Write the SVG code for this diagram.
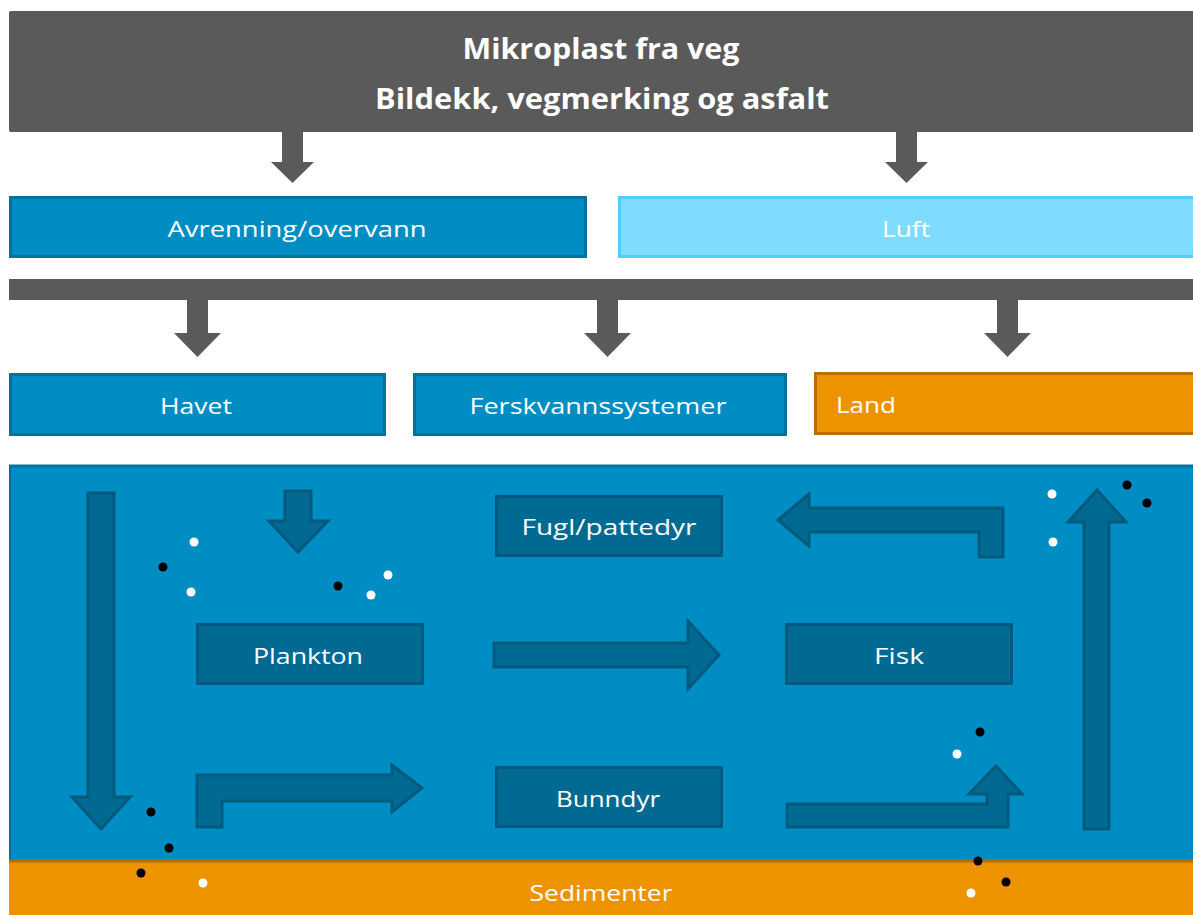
<svg xmlns="http://www.w3.org/2000/svg" width="1193" height="915" viewBox="0 0 1193 915">
<style>
text{font-family:"Open Sans","DejaVu Sans",sans-serif;fill:#fff;dominant-baseline:central;text-anchor:middle}
.t{font-size:28px;font-weight:bold}
.l{font-size:22px}
.gray{fill:#5a5a5a}
.blue{fill:#008dc4;stroke:#00729e;stroke-width:3}
.luft{fill:#80dcff;stroke:#4dcfff;stroke-width:3}
.orange{fill:#ee9300;stroke:#b66f00;stroke-width:3}
.inner{fill:#006a93;stroke:#005a7d;stroke-width:3}
.ga{fill:#5a5a5a}
.ia{fill:#006a93;stroke:#005a7d;stroke-width:3;stroke-linejoin:miter}
.w{fill:#fff}
.k{fill:#000}
</style>
<rect width="1193" height="915" fill="#fff"/>
<g id="water">
<rect x="9" y="465" width="1190" height="400" fill="#008dc4"/>
<line x1="9" y1="466" x2="1193" y2="466" stroke="#00729e" stroke-width="3"/>
<line x1="10" y1="465" x2="10" y2="862" stroke="#00729e" stroke-width="2"/>
</g>
<g id="sedimenter">
<rect x="9" y="860" width="1190" height="60" fill="#ee9300"/>
<line x1="9" y1="861" x2="1193" y2="861" stroke="#b66f00" stroke-width="3"/>
<text class="l" x="601" y="892" textLength="143" lengthAdjust="spacingAndGlyphs">Sedimenter</text>
</g>
<g id="kilde">
<rect x="9" y="11" width="1190" height="121" class="gray" rx="2"/>
<text class="t" x="601" y="48" textLength="277" lengthAdjust="spacingAndGlyphs">Mikroplast fra veg</text>
<text class="t" x="602" y="98" textLength="454" lengthAdjust="spacingAndGlyphs">Bildekk, vegmerking og asfalt</text>
</g>
<g id="avrenning">
<rect x="10.5" y="197.5" width="575" height="59" class="blue"/>
<text class="l" x="297" y="228" textLength="259" lengthAdjust="spacingAndGlyphs">Avrenning/overvann</text>
</g>
<g id="luft">
<rect x="619.5" y="197.5" width="580" height="59" class="luft"/>
<text class="l" x="906" y="228" textLength="48" lengthAdjust="spacingAndGlyphs">Luft</text>
</g>
<g id="fordeler">
<rect x="9" y="279" width="1190" height="21" class="gray"/>
</g>
<g id="havet">
<rect x="10.5" y="374.5" width="374" height="60" class="blue"/>
<text class="l" x="196" y="405" textLength="72" lengthAdjust="spacingAndGlyphs">Havet</text>
</g>
<g id="ferskvann">
<rect x="414.5" y="374.5" width="371" height="60" class="blue"/>
<text class="l" x="598" y="405" textLength="257" lengthAdjust="spacingAndGlyphs">Ferskvannssystemer</text>
</g>
<g id="land">
<rect x="815.5" y="373.5" width="384" height="60" class="orange"/>
<text class="l" x="836" y="404" style="text-anchor:start" textLength="60" lengthAdjust="spacingAndGlyphs">Land</text>
</g>
<g id="fugl">
<rect x="496.5" y="496.5" width="225" height="59" class="inner"/>
<text class="l" x="609" y="526" textLength="175" lengthAdjust="spacingAndGlyphs">Fugl/pattedyr</text>
</g>
<g id="plankton">
<rect x="197.5" y="624.5" width="225" height="59" class="inner"/>
<text class="l" x="308" y="655" textLength="110" lengthAdjust="spacingAndGlyphs">Plankton</text>
</g>
<g id="fisk">
<rect x="786.5" y="624.5" width="225" height="59" class="inner"/>
<text class="l" x="899" y="655" textLength="50" lengthAdjust="spacingAndGlyphs">Fisk</text>
</g>
<g id="bunndyr">
<rect x="496.5" y="767.5" width="225" height="59" class="inner"/>
<text class="l" x="608" y="798" textLength="104" lengthAdjust="spacingAndGlyphs">Bunndyr</text>
</g>
<g id="connectors">
<polygon class="ga" points="282,132 303,132 303,162 314,162 292.5,183 271,162 282,162"/>
<polygon class="ga" points="896,132 917,132 917,162 928,162 906.5,183 885,162 896,162"/>
<polygon class="ga" points="187,300 208,300 208,333 221,333 197.5,357 174,333 187,333"/>
<polygon class="ga" points="597,300 618,300 618,333 631,333 607.5,357 584,333 597,333"/>
<polygon class="ga" points="997,300 1018,300 1018,333 1031,333 1007.5,357 984,333 997,333"/>
<polygon class="ia" points="88,493 114,493 114,797 130,797 101,829 72,797 88,797"/>
<polygon class="ia" points="285,491 311,491 311,521 328,521 298,552 269,521 285,521"/>
<polygon class="ia" points="197,827 197,775 392,775 392,765 422,788 392,812 392,801 222,801 222,827"/>
<polygon class="ia" points="494,643 688,643 688,621 719,655 688,689 688,667 494,667"/>
<polygon class="ia" points="778,520 809,494 809,508 1003,508 1003,557 979,557 979,532 809,532 809,546"/>
<polygon class="ia" points="787,804 987,804 987,794 969,794 996,766 1022,794 1008,794 1008,827 787,827"/>
<polygon class="ia" points="1084,829 1109,829 1109,522 1126,522 1097,490 1068,522 1084,522"/>
</g>
<g id="partikler">
<circle class="w" cx="194" cy="542" r="4.5"/>
<circle class="k" cx="163" cy="567" r="4.5"/>
<circle class="w" cx="191" cy="592" r="4.5"/>
<circle class="k" cx="338" cy="586" r="4.5"/>
<circle class="w" cx="388" cy="575" r="4.5"/>
<circle class="w" cx="371" cy="595" r="4.5"/>
<circle class="k" cx="151" cy="812" r="4.5"/>
<circle class="k" cx="169" cy="848" r="4.5"/>
<circle class="k" cx="141" cy="873" r="4.5"/>
<circle class="w" cx="203" cy="883" r="4.5"/>
<circle class="w" cx="1052" cy="494" r="4.5"/>
<circle class="w" cx="1053" cy="542" r="4.5"/>
<circle class="k" cx="1127" cy="485" r="4.5"/>
<circle class="k" cx="1147" cy="503" r="4.5"/>
<circle class="k" cx="980" cy="732" r="4.5"/>
<circle class="w" cx="957" cy="754" r="4.5"/>
<circle class="k" cx="978" cy="861" r="4.5"/>
<circle class="k" cx="1006" cy="882" r="4.5"/>
<circle class="w" cx="971" cy="893" r="4.5"/>
</g>
</svg>
